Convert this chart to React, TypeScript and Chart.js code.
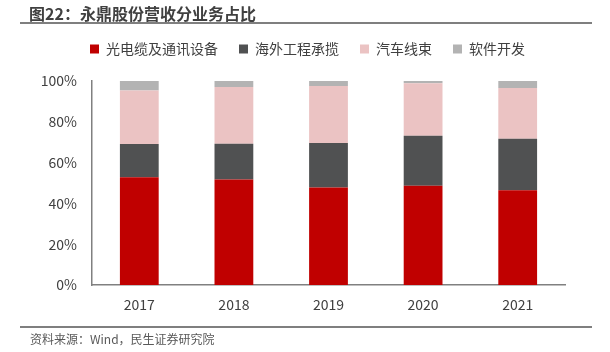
import React, { useEffect, useRef } from "react";
import { Chart, registerables } from "chart.js";

Chart.register(...registerables);

const categories = ["2017", "2018", "2019", "2020", "2021"];
const seriesNames = ["光电缆及通讯设备", "海外工程承揽", "汽车线束", "软件开发"];
const cableComm = [52.8, 51.7, 47.8, 48.6, 46.5];
const overseasEng = [16.3, 17.6, 21.8, 24.6, 25.2];
const autoHarness = [26.2, 27.8, 28.0, 25.7, 24.9];
const software = [4.7, 2.9, 2.4, 1.1, 3.4];
const yTicks = [0, 20, 40, 60, 80, 100];
const colors = ["#C00000", "#505152", "#EBC3C3", "#B3B3B3"];

const FONT = "'Noto Sans CJK SC', 'Microsoft YaHei', sans-serif";

const legendTweak = {
  id: "legendTweak",
  afterInit(chart: any) {
    const lg = chart.legend;
    if (lg && !lg.__patched) {
      const orig = lg.fit;
      lg.fit = function () {
        orig.call(this);
        this.height += 15;
      };
      lg.__patched = true;
    }
  },
  afterLayout(chart: any) {
    const lg = chart.legend;
    if (lg) {
      lg.left += 15;
      lg.right += 15;
    }
  },
};

export default function App() {
  const ref = useRef<HTMLCanvasElement | null>(null);

  useEffect(() => {
    if (!ref.current) return;
    const values = [cableComm, overseasEng, autoHarness, software];
    const chart = new Chart(ref.current, {
      type: "bar",
      data: {
        labels: categories,
        datasets: seriesNames.map((name, i) => ({
          label: name,
          data: values[i],
          backgroundColor: colors[i],
          borderWidth: 0,
          barPercentage: 0.41,
          categoryPercentage: 1,
        })),
      },
      plugins: [legendTweak],
      options: {
        responsive: false,
        animation: false,
        layout: { padding: { left: 20, right: 45, top: 21, bottom: 0 } },
        plugins: {
          legend: {
            position: "top",
            align: "center",
            labels: {
              boxWidth: 9,
              boxHeight: 9,
              padding: 21,
              color: "#404040",
              font: { family: FONT, size: 14 },
            },
          },
          tooltip: { enabled: false },
        },
        scales: {
          x: {
            stacked: true,
            grid: { display: false, drawTicks: false },
            border: { display: true, color: "#808080", width: 1.5 },
            ticks: { color: "#404040", padding: 11, font: { family: FONT, size: 14 } },
            afterFit: (s: any) => {
              s.height = 352 - 285;
            },
          },
          y: {
            stacked: true,
            min: 0,
            max: 100,
            grid: { display: false, drawTicks: false },
            border: { display: true, color: "#808080", width: 1.5 },
            afterBuildTicks: (s: any) => {
              s.ticks = yTicks.map((v) => ({ value: v }));
            },
            ticks: {
              color: "#404040",
              padding: 15,
              font: { family: FONT, size: 14 },
              callback: (v: any) => v + "%",
            },
            afterFit: (s: any) => {
              s.width = 72;
            },
          },
        },
      },
    });
    return () => chart.destroy();
  }, []);

  return (
    <div style={{ position: "fixed", left: 0, top: 0, width: 610, height: 352, background: "#fff", overflow: "hidden" }}>
      <canvas ref={ref} width={610} height={352} style={{ position: "absolute", left: 0, top: 0 }} />
      <div style={{ position: "absolute", left: 29, top: 2, fontFamily: FONT, fontSize: 16, fontWeight: "bold", color: "#404040", lineHeight: "22px", whiteSpace: "nowrap" }}>
        图22：永鼎股份营收分业务占比
      </div>
      <div style={{ position: "absolute", left: 20, top: 22, width: 572, height: 2, background: "#7f7f7f" }} />
      <div style={{ position: "absolute", left: 20, top: 326, width: 572, height: 2, background: "#7f7f7f" }} />
      <div style={{ position: "absolute", left: 30, top: 330, fontFamily: FONT, fontSize: 12, color: "#595959", lineHeight: "17px", whiteSpace: "nowrap" }}>
        资料来源：Wind，民生证券研究院
      </div>
    </div>
  );
}
